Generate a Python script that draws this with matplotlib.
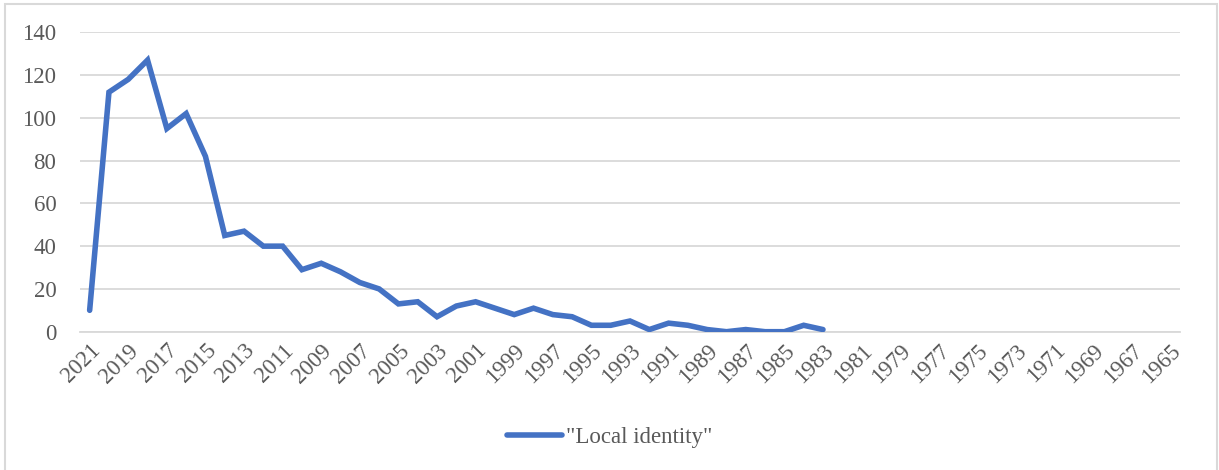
import matplotlib.pyplot as plt
import numpy as np
from matplotlib.patches import Rectangle

# Years shown on the category axis (newest first, as in the source chart)
years = list(range(2021, 1964, -1))

# Publication counts, 2021 down to 1983 (no data after)
counts = [10, 112, 118, 127, 95, 102, 82, 45, 47, 40,
          40, 29, 32, 28, 23, 20, 13, 14, 7, 12,
          14, 11, 8, 11, 8, 7, 3, 3, 5, 1,
          4, 3, 1, 0, 1, 0, 0, 3, 1]
values = counts + [np.nan] * (len(years) - len(counts))

series_label = '"Local identity"'
y_ticks = [0, 20, 40, 60, 80, 100, 120, 140]

W, H, DPI = 1219, 470, 100
LINE_COLOR = "#4472C4"
GRID_COLOR = "#D9D9D9"
TEXT_COLOR = "#595959"

plt.rcParams['font.family'] = ['Liberation Serif', 'DejaVu Serif']

fig = plt.figure(figsize=(W / DPI, H / DPI), dpi=DPI)

# Light frame around the chart area
fig.add_artist(Rectangle((5 / W, -0.05), 1212 / W, 1.05 - 4 / H, transform=fig.transFigure,
                         fill=False, edgecolor=GRID_COLOR, linewidth=1.5))

left, right = 80 / W, 1180 / W
bottom, top = 1 - 331.7 / H, 1 - 32.3 / H
ax = fig.add_axes([left, bottom, right - left, top - bottom])

x = np.arange(len(years))
ax.plot(x, values, '-', color=LINE_COLOR, linewidth=4.0, solid_joinstyle='miter',
        solid_capstyle='round', label=series_label, zorder=3)

ax.set_xlim(-0.5, len(years) - 0.5)
ax.set_ylim(0, 140)
ax.set_yticks(y_ticks)
ax.set_yticklabels([str(v) for v in y_ticks])
ax.set_xticks(x[::2])
ax.set_xticklabels([str(y) for y in years[::2]], rotation=45, ha='right', va='top',
                   rotation_mode='anchor')

ax.grid(axis='y', color=GRID_COLOR, linewidth=1.3)
ax.set_axisbelow(True)
for side in ['top', 'right', 'left']:
    ax.spines[side].set_visible(False)
ax.spines['bottom'].set_color(GRID_COLOR)
ax.spines['bottom'].set_linewidth(1.3)
ax.tick_params(axis='both', length=0, labelsize=16.5, labelcolor=TEXT_COLOR)
ax.tick_params(axis='y', pad=17)
ax.tick_params(axis='x', pad=6)

fig.legend(loc='center', bbox_to_anchor=(0.5, 1 - 437 / H), frameon=False, fontsize=16.5,
           labelcolor=TEXT_COLOR, handlelength=2.4, handletextpad=0.2)

fig.savefig('out.png', dpi=DPI)
